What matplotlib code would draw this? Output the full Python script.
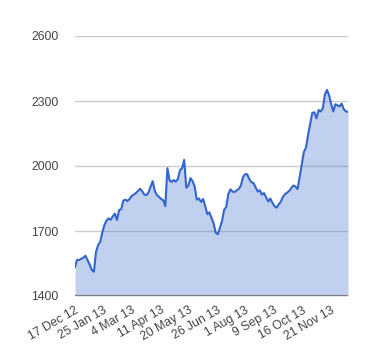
import matplotlib
matplotlib.use("Agg")
import matplotlib.pyplot as plt
import numpy as np

values = [
    1534, 1567, 1566, 1572, 1577, 1586, 1565, 1545, 1520, 1512,
    1603, 1635, 1650, 1692, 1728, 1748, 1758, 1752, 1768, 1780,
    1751, 1797, 1800, 1840, 1845, 1838, 1848, 1862, 1868, 1875,
    1885, 1895, 1884, 1868, 1866, 1878, 1905, 1930, 1885, 1866,
    1858, 1848, 1842, 1815, 1990, 1935, 1926, 1935, 1928, 1940,
    1981, 1990, 2028, 1900, 1910, 1944, 1930, 1905, 1845, 1850,
    1834, 1848, 1815, 1778, 1786, 1760, 1735, 1692, 1685, 1715,
    1745, 1797, 1811, 1870, 1892, 1882, 1880, 1888, 1894, 1910,
    1949, 1962, 1962, 1940, 1925, 1921, 1902, 1882, 1888, 1868,
    1875, 1856, 1836, 1850, 1830, 1815, 1808, 1822, 1835, 1858,
    1870, 1877, 1885, 1898, 1910, 1905, 1893, 1950, 2010, 2065,
    2085, 2145, 2195, 2245, 2248, 2220, 2258, 2252, 2266, 2330,
    2351, 2326, 2285, 2252, 2285, 2280, 2275, 2288, 2262, 2252,
    2250,
]
tick_labels = ["17 Dec 12", "25 Jan 13", "4 Mar 13", "11 Apr 13", "20 May 13",
               "26 Jun 13", "1 Aug 13", "9 Sep 13", "16 Oct 13", "21 Nov 13"]
y_ticks = [1400, 1700, 2000, 2300, 2600]

plt.rcParams['font.family'] = ['Liberation Sans', 'DejaVu Sans']

fig = plt.figure(figsize=(3.8, 3.6), dpi=100)
ax = fig.add_axes([75/380, 1 - 296/360, 273/380, 260/360])

x = np.arange(len(values))
ax.fill_between(x, 1400, values, color='#3366cc', alpha=0.3, linewidth=0, zorder=2)
ax.plot(x, values, color='#3366cc', linewidth=1.5, zorder=3, solid_joinstyle='round')

ax.set_xlim(0, len(values) - 1)
ax.set_ylim(1400, 2600)
ax.set_yticks(y_ticks)
ax.set_yticklabels([str(v) for v in y_ticks])
for v in y_ticks[1:]:
    ax.axhline(v, color='#cccccc', linewidth=1, zorder=1)
ax.axhline(1400, color='#7f7f7f', linewidth=1.6, zorder=4)

ax.set_xticks(np.arange(len(tick_labels)) * 13.5)
ax.set_xticklabels(tick_labels, rotation=30, ha='right', rotation_mode='anchor')

for s in ax.spines.values():
    s.set_visible(False)
ax.tick_params(axis='both', length=0, labelsize=8.8, colors='#444444')
ax.tick_params(axis='y', pad=12)
ax.tick_params(axis='x', pad=6)

fig.savefig('out.png', dpi=100)
